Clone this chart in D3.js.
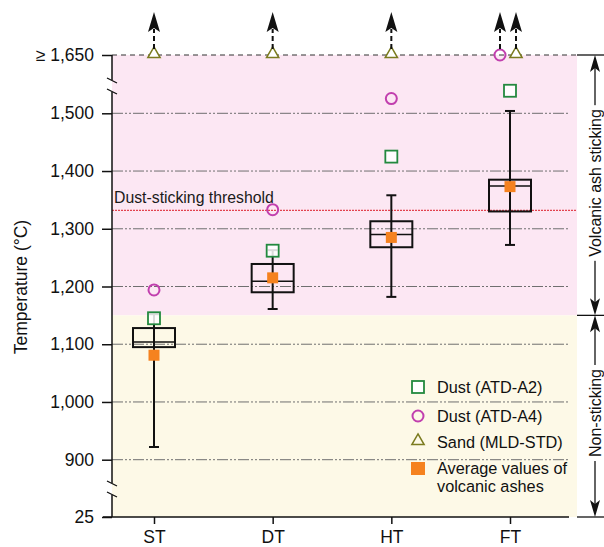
<!DOCTYPE html>
<html>
<head>
<meta charset="utf-8">
<script src="https://cdn.jsdelivr.net/npm/d3@7"></script>
<style>
  body { margin: 0; background: #fff; }
  text { font-family: "Liberation Sans", Arial, sans-serif; }
</style>
</head>
<body>
<div id="chart"></div>
<script>
// values (°C)
const categories = ["ST", "DT", "HT", "FT"];
const whiskerLow = [922, 1161, 1182, 1272];
const boxLow = [1095, 1190, 1268, 1330];
const median = [1104, 1209, 1290, 1374];
const boxHigh = [1128, 1239, 1313, 1385];
const whiskerHigh = [1152, 1263, 1358, 1506];
const ashMean = [1081, 1215, 1285, 1373];
const dustA2 = [1145, 1262, 1425, 1558];
const dustA4 = [1194, 1333, 1538, 1650];
const sandMLD = [1650, 1650, 1650, 1650];
const yTicks = [25, 900, 1000, 1100, 1200, 1300, 1400, 1500, 1650];
const gridTicks = [900, 1000, 1100, 1200, 1300, 1400, 1500];
const threshold = 1332;
const stickBoundary = 1150;
const topValue = 1650, bottomValue = 25;

let width = 604, height = 547;
let left = 112, plotRight = 577, gridRight = 569;

let svg = d3.select("#chart").append("svg")
    .attr("width", width)
    .attr("height", height);

// broken axis: 25 | 900..1500 | 1650
let yScale = d3.scaleLinear()
    .domain([25, 900, 1500, 1650])
    .range([517, 459.7, 113.3, 55]);

let xScale = d3.scalePoint()
    .domain(categories)
    .range([154, 510]);

// background bands
svg.append("rect")
    .attr("x", left).attr("y", yScale(topValue))
    .attr("width", plotRight - left)
    .attr("height", yScale(stickBoundary) - yScale(topValue))
    .attr("fill", "#fce7f3");
svg.append("rect")
    .attr("x", left).attr("y", yScale(stickBoundary))
    .attr("width", plotRight - left)
    .attr("height", yScale(bottomValue) - yScale(stickBoundary))
    .attr("fill", "#fdf9e7");

// grid lines
svg.append("g").selectAll("line")
    .data(gridTicks)
    .enter().append("line")
    .attr("x1", left).attr("x2", gridRight)
    .attr("y1", d => yScale(d)).attr("y2", d => yScale(d))
    .attr("stroke", "#6f6f6f")
    .attr("stroke-width", 1)
    .attr("stroke-dasharray", "11,2,2,2,2,2");

// top dashed line (≥1650)
svg.append("line")
    .attr("x1", left).attr("x2", plotRight)
    .attr("y1", yScale(topValue)).attr("y2", yScale(topValue))
    .attr("stroke", "#333").attr("stroke-width", 1.2)
    .attr("stroke-dasharray", "5,4");

// threshold line
svg.append("line")
    .attr("x1", left).attr("x2", plotRight)
    .attr("y1", yScale(threshold)).attr("y2", yScale(threshold))
    .attr("stroke", "#e2434f").attr("stroke-width", 1.2)
    .attr("stroke-dasharray", "2,1");
svg.append("text")
    .attr("x", left + 2).attr("y", yScale(threshold) - 7)
    .attr("font-size", "15.8px").attr("fill", "#1a1a1a")
    .text("Dust-sticking threshold");

// y axis
let yAxis = d3.axisLeft(yScale)
    .tickValues(yTicks)
    .tickSize(10)
    .tickPadding(8)
    .tickFormat(d => d == topValue ? "≥ " + d3.format(",")(d) : d3.format(",")(d));
let yg = svg.append("g")
    .attr("transform", "translate(" + left + ",0)")
    .call(yAxis);
yg.select(".domain").remove();
yg.selectAll("line").attr("stroke", "#111").attr("stroke-width", 1.5);
yg.selectAll("text").attr("font-size", "17.5px").attr("fill", "#111")
    .attr("font-family", "'Liberation Sans', Arial, sans-serif");

// axis line with breaks
let breaks = [[80, 92], [483, 495]];
let segs = [[yScale(topValue), breaks[0][0]], [breaks[0][1], breaks[1][0]], [breaks[1][1], yScale(bottomValue)]];
svg.append("g").selectAll("line")
    .data(segs)
    .enter().append("line")
    .attr("x1", left).attr("x2", left)
    .attr("y1", d => d[0]).attr("y2", d => d[1])
    .attr("stroke", "#111").attr("stroke-width", 1.5);
svg.append("g").selectAll("path")
    .data(breaks)
    .enter().append("path")
    .attr("d", d => "M" + (left - 5) + "," + (d[0] - 2) + "L" + (left + 5) + "," + (d[0] + 3)
        + "M" + (left - 5) + "," + (d[1] - 3) + "L" + (left + 5) + "," + (d[1] + 2))
    .attr("stroke", "#111").attr("stroke-width", 1.3).attr("fill", "none");

// x axis
let xAxis = d3.axisBottom(xScale).tickSize(7).tickPadding(7);
let xg = svg.append("g")
    .attr("transform", "translate(0," + yScale(bottomValue) + ")")
    .call(xAxis);
xg.select(".domain").remove();
xg.selectAll("line").attr("stroke", "#111").attr("stroke-width", 1.5);
xg.selectAll("text").attr("font-size", "17.5px").attr("fill", "#111")
    .attr("font-family", "'Liberation Sans', Arial, sans-serif");
svg.append("line")
    .attr("x1", left - 9).attr("x2", gridRight)
    .attr("y1", yScale(bottomValue)).attr("y2", yScale(bottomValue))
    .attr("stroke", "#111").attr("stroke-width", 1.5);

// boxes
let boxW = 42, capW = 10;
let idx = d3.range(categories.length);
let boxes = svg.append("g").selectAll("g")
    .data(idx)
    .enter().append("g");
boxes.append("line")
    .attr("x1", i => xScale(categories[i])).attr("x2", i => xScale(categories[i]))
    .attr("y1", i => yScale(whiskerLow[i])).attr("y2", i => yScale(whiskerHigh[i]))
    .attr("stroke", "#111").attr("stroke-width", 2);
boxes.selectAll(".cap")
    .data(i => [[i, whiskerLow[i]], [i, whiskerHigh[i]]])
    .enter().append("line")
    .attr("x1", d => xScale(categories[d[0]]) - capW / 2)
    .attr("x2", d => xScale(categories[d[0]]) + capW / 2)
    .attr("y1", d => yScale(d[1])).attr("y2", d => yScale(d[1]))
    .attr("stroke", "#111").attr("stroke-width", 2);
boxes.append("rect")
    .attr("x", i => xScale(categories[i]) - boxW / 2)
    .attr("y", i => yScale(boxHigh[i]))
    .attr("width", boxW)
    .attr("height", i => yScale(boxLow[i]) - yScale(boxHigh[i]))
    .attr("fill", "none").attr("stroke", "#111").attr("stroke-width", 2);
boxes.append("line")
    .attr("x1", i => xScale(categories[i]) - boxW / 2)
    .attr("x2", i => xScale(categories[i]) + boxW / 2)
    .attr("y1", i => yScale(median[i])).attr("y2", i => yScale(median[i]))
    .attr("stroke", "#111").attr("stroke-width", 1.5);

// markers
let green = "#23893f", magenta = "#c13fae", olive = "#7b7b1f", orange = "#f5821f";
let sq = 11;

function offsets(i) {
    // A4 and sand both off the scale -> drawn side by side
    if (dustA4[i] >= topValue && sandMLD[i] >= topValue) return [-10, 6];
    return [0, 0];
}

svg.append("g").selectAll("rect")
    .data(idx)
    .enter().append("rect")
    .attr("x", i => xScale(categories[i]) - sq / 2)
    .attr("y", i => yScale(ashMean[i]) - sq / 2)
    .attr("width", sq).attr("height", sq)
    .attr("fill", orange);

svg.append("g").selectAll("rect")
    .data(idx)
    .enter().append("rect")
    .attr("x", i => xScale(categories[i]) - 6)
    .attr("y", i => yScale(dustA2[i]) - 6)
    .attr("width", 12).attr("height", 12)
    .attr("fill", "#fff").attr("fill-opacity", 0.85)
    .attr("stroke", green).attr("stroke-width", 1.8);

svg.append("g").selectAll("circle")
    .data(idx)
    .enter().append("circle")
    .attr("cx", i => xScale(categories[i]) + offsets(i)[0])
    .attr("cy", i => yScale(dustA4[i]))
    .attr("r", 5.5)
    .attr("fill", "none")
    .attr("stroke", magenta).attr("stroke-width", 2);

let tri = d3.symbol().type(d3.symbolTriangle).size(65);
svg.append("g").selectAll("path")
    .data(idx)
    .enter().append("path")
    .attr("d", tri)
    .attr("transform", i => "translate(" + (xScale(categories[i]) + offsets(i)[1]) + "," + (yScale(sandMLD[i]) - 1) + ")")
    .attr("fill", "#fff")
    .attr("stroke", olive).attr("stroke-width", 1.5);

// arrows for values ≥ 1650
let arrowPts = [];
idx.forEach(i => {
    if (dustA4[i] >= topValue) arrowPts.push(xScale(categories[i]) + offsets(i)[0]);
    if (sandMLD[i] >= topValue) arrowPts.push(xScale(categories[i]) + offsets(i)[1]);
});
let ay = yScale(topValue);
let arrows = svg.append("g").selectAll("g")
    .data(arrowPts)
    .enter().append("g");
arrows.append("line")
    .attr("x1", d => d).attr("x2", d => d)
    .attr("y1", ay - 6).attr("y2", ay - 26)
    .attr("stroke", "#111").attr("stroke-width", 2)
    .attr("stroke-dasharray", "5,3");
arrows.append("path")
    .attr("d", d => "M" + d + "," + (ay - 43) + "L" + (d + 6) + "," + (ay - 23)
        + "L" + d + "," + (ay - 27) + "L" + (d - 6) + "," + (ay - 23) + "Z")
    .attr("fill", "#111");

// legend
let legend = svg.append("g").attr("transform", "translate(418,0)");
let legendY = [387, 416, 442, 468];
let legendText = ["Dust (ATD-A2)", "Dust (ATD-A4)", "Sand (MLD-STD)", "Average values of"];
legend.append("rect")
    .attr("x", -6).attr("y", legendY[0] - 6).attr("width", 12).attr("height", 12)
    .attr("fill", "#fff").attr("stroke", green).attr("stroke-width", 1.8);
legend.append("circle")
    .attr("cx", 0).attr("cy", legendY[1]).attr("r", 5.5)
    .attr("fill", "none").attr("stroke", magenta).attr("stroke-width", 2);
legend.append("path")
    .attr("d", tri)
    .attr("transform", "translate(0," + (legendY[2] - 1) + ")")
    .attr("fill", "none").attr("stroke", olive).attr("stroke-width", 1.5);
legend.append("rect")
    .attr("x", -7).attr("y", legendY[3] - 6).attr("width", 14).attr("height", 13)
    .attr("fill", orange);
legend.selectAll("text")
    .data(legendText)
    .enter().append("text")
    .attr("x", 19).attr("y", (d, i) => legendY[i])
    .attr("dy", "0.35em")
    .attr("font-size", "16.3px").attr("fill", "#111")
    .text(d => d);
legend.append("text")
    .attr("x", 19).attr("y", legendY[3] + 18).attr("dy", "0.35em")
    .attr("font-size", "16.3px").attr("fill", "#111")
    .text("volcanic ashes");

// right brackets
let bx = 595;
[topValue, stickBoundary, bottomValue].forEach(v => {
    svg.append("line")
        .attr("x1", plotRight).attr("x2", width)
        .attr("y1", yScale(v)).attr("y2", yScale(v))
        .attr("stroke", "#111").attr("stroke-width", 1.3);
});
function bracket(v0, v1, label, cy) {
    let y0 = yScale(v0), y1 = yScale(v1);
    let g = svg.append("g");
    g.append("line").attr("x1", bx).attr("x2", bx)
        .attr("y1", y0 + 10).attr("y2", y1 - 10)
        .attr("stroke", "#111").attr("stroke-width", 1.3);
    g.append("path")
        .attr("d", "M" + bx + "," + y0 + "L" + (bx + 5) + "," + (y0 + 17) + "L" + bx + "," + (y0 + 13) + "L" + (bx - 5) + "," + (y0 + 17) + "Z")
        .attr("fill", "#111");
    g.append("path")
        .attr("d", "M" + bx + "," + y1 + "L" + (bx + 5) + "," + (y1 - 17) + "L" + bx + "," + (y1 - 13) + "L" + (bx - 5) + "," + (y1 - 17) + "Z")
        .attr("fill", "#111");
    let t = g.append("text")
        .attr("transform", "translate(" + bx + "," + cy + ") rotate(-90)")
        .attr("text-anchor", "middle").attr("dy", "0.35em")
        .attr("font-size", "16px").attr("fill", "#111")
        .text(label);
    let bb = t.node().getBBox();
    g.insert("rect", "text")
        .attr("x", bx - 10).attr("y", cy - bb.width / 2 - 4)
        .attr("width", 20).attr("height", bb.width + 8)
        .attr("fill", "#fff");
}
bracket(topValue, stickBoundary, "Volcanic ash sticking", 183);
bracket(stickBoundary, bottomValue, "Non-sticking", 413);

// y title
svg.append("text")
    .attr("transform", "translate(21,287) rotate(-90)")
    .attr("text-anchor", "middle").attr("dy", "0.35em")
    .attr("font-size", "17.5px").attr("fill", "#111")
    .text("Temperature (°C)");
</script>
</body>
</html>
